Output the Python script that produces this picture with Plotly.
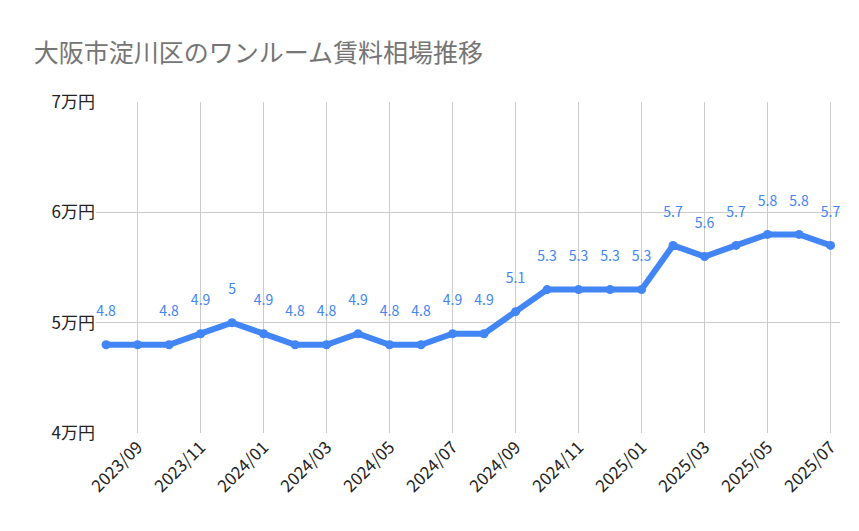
import plotly.graph_objects as go

months = ["2023/08","2023/09","2023/10","2023/11","2023/12","2024/01","2024/02","2024/03","2024/04","2024/05","2024/06","2024/07",
          "2024/08","2024/09","2024/10","2024/11","2024/12","2025/01","2025/02","2025/03","2025/04","2025/05","2025/06","2025/07"]
rent = [4.8,4.8,4.8,4.9,5.0,4.9,4.8,4.8,4.9,4.8,4.8,4.9,4.9,5.1,5.3,5.3,5.3,5.3,5.7,5.6,5.7,5.8,5.8,5.7]
labels = ["" if i == 1 else f"{v:g}<br> " for i, v in enumerate(rent)]
y_ticks = [4, 5, 6, 7]
y_ticktext = ["4万円", "5万円", "6万円", "7万円"]

idx = list(range(len(months)))
tick_idx = [i for i in idx if i % 2 == 1]

fig = go.Figure(go.Scatter(
    x=idx, y=rent, mode="lines+markers+text", text=labels, textposition="top center",
    textfont=dict(color="#4285f4", size=14),
    line=dict(color="#4285f4", width=6), marker=dict(color="#4285f4", size=9),
    cliponaxis=False, hoverinfo="skip"))

fig.update_layout(
    width=859, height=531, paper_bgcolor="white", plot_bgcolor="white",
    font=dict(family="Noto Sans CJK JP, sans-serif", color="#222"),
    title=dict(text="大阪市淀川区のワンルーム賃料相場推移", x=0.03, y=0.915, yanchor="middle", xanchor="left",
               font=dict(size=25, color="#757575")),
    margin=dict(l=88, r=27, t=94, b=106), showlegend=False,
    xaxis=dict(range=[-0.32, 23.3], tickvals=tick_idx, ticktext=[months[i] for i in tick_idx],
               tickangle=-45, showgrid=True, gridcolor="#cccccc", zeroline=False, automargin=False,
               tickfont=dict(size=17, color="#222")),
    yaxis=dict(range=[4, 7], tickvals=y_ticks, ticktext=y_ticktext, showgrid=True, automargin=False,
               gridcolor="#cccccc", zeroline=False, tickfont=dict(size=17, color="#222")),
)
fig.write_html("out.html")
